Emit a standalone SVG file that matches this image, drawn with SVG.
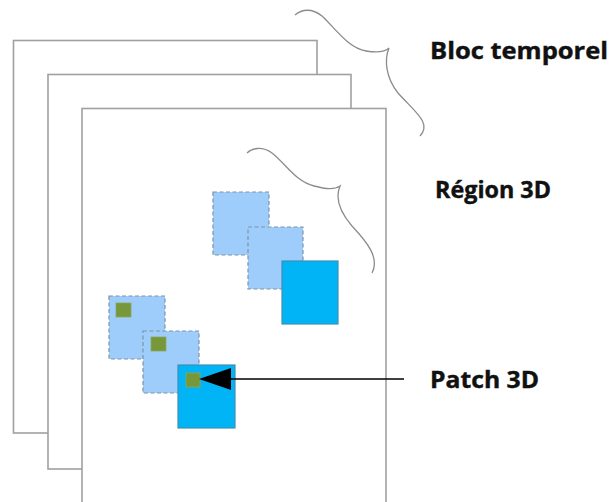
<svg xmlns="http://www.w3.org/2000/svg" width="612" height="502" viewBox="0 0 612 502">
  <defs>
    <style>
      .frame { fill: #ffffff; stroke: #a0a0a0; stroke-width: 1.6; }
      .ghost { fill: #9fcdfb; stroke: #7f93a8; stroke-width: 1.2; stroke-dasharray: 4 2.5; }
      .solid { fill: #00b4f5; stroke: #3f8fb4; stroke-width: 1.2; }
      .voxel { fill: #77983a; stroke: #8aa85a; stroke-width: 0.8; }
      .brace { fill: none; stroke: #8c8c8c; stroke-width: 1.3; }
      .label { font-family: "Open Sans", "Liberation Sans", sans-serif; font-weight: 700; font-size: 22.5px; fill: #111111; stroke: #111111; stroke-width: 0.4; }
    </style>
  </defs>

  <rect width="612" height="502" fill="#ffffff"/>

  <!-- stack of frames forming the time block -->
  <g id="frame-1"><rect class="frame" x="13.5" y="40.5" width="303.5" height="392.5"/></g>
  <g id="frame-2"><rect class="frame" x="48" y="74.5" width="303" height="394.5"/></g>
  <g id="frame-3"><rect class="frame" x="82" y="108.5" width="304" height="410"/></g>

  <!-- upper 3D region -->
  <g id="region-3d">
    <rect class="ghost" x="213" y="192" width="56" height="63"/>
    <rect class="ghost" x="248" y="227" width="55" height="62"/>
    <rect class="solid" x="282" y="261" width="56" height="63"/>
  </g>

  <!-- lower 3D region with its patches -->
  <g id="patch-3d">
    <rect class="ghost" x="109" y="296" width="56" height="63"/>
    <rect class="voxel" x="116" y="303" width="15" height="14"/>
    <rect class="ghost" x="143" y="331" width="56" height="62"/>
    <rect class="voxel" x="151" y="337" width="15" height="14"/>
    <rect class="solid" x="178" y="365" width="57" height="63"/>
    <rect class="voxel" x="186" y="373" width="14" height="14"/>
  </g>

  <!-- braces and pointer -->
  <g id="connectors">
    <path class="brace" d="M295,15 C302,9 312,8 322,16 C335,28 348,48 366,51 C378,53 385,52 389,48 C384,60 386,78 398,93 C415,112 432,123 420,136"/>
    <path class="brace" d="M247,153 C252,148 262,146 272,153 C285,163 296,182 314,186 C326,189 334,190 340,186 C335,198 340,212 352,226 C367,242 380,258 372,273"/>
    <line x1="404" y1="379" x2="229" y2="379" stroke="#000000" stroke-width="1.6"/>
    <polygon points="199,379 231,368 231,390" fill="#000000"/>
  </g>

  <g id="label-bloc"><text class="label" x="430" y="59" textLength="178" lengthAdjust="spacingAndGlyphs">Bloc temporel</text></g>
  <g id="label-region"><text class="label" x="435" y="198" textLength="116" lengthAdjust="spacingAndGlyphs">Région 3D</text></g>
  <g id="label-patch"><text class="label" x="430" y="388" textLength="109" lengthAdjust="spacingAndGlyphs">Patch 3D</text></g>
</svg>
